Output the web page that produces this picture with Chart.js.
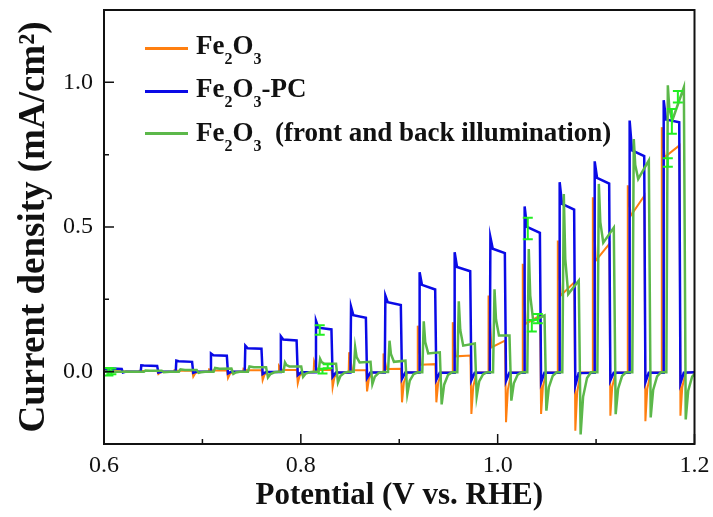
<!DOCTYPE html>
<html>
<head>
<meta charset="utf-8">
<script src="https://cdn.jsdelivr.net/npm/chart.js@4.4.1/dist/chart.umd.min.js"></script>
<style>
  html, body { margin: 0; padding: 0; background: #fff; }
  #wrap { position: relative; width: 713px; height: 517px; }
  #chart { position: absolute; left: 0; top: 0; }
  .swatch { position: absolute; left: 145px; width: 43px; height: 2.5px; }
  .leg { position: absolute; left: 196px; font: bold 27px 'Liberation Serif', serif; line-height: 27px;
         white-space: pre; color: #111; }
  .leg sub { font-size: 16px; vertical-align: -10px; line-height: 0; }
</style>
</head>
<body>
<div id="wrap">
  <canvas id="chart" width="713" height="517"></canvas>
  <div class="swatch" style="top:47px; background:#ff7f10"></div>
  <div class="leg" style="top:32px">Fe<sub>2</sub>O<sub>3</sub></div>
  <div class="swatch" style="top:90px; background:#0a0ae6"></div>
  <div class="leg" style="top:75px">Fe<sub>2</sub>O<sub>3</sub>-PC</div>
  <div class="swatch" style="top:132px; background:#5cb84a"></div>
  <div class="leg" style="top:119px">Fe<sub>2</sub>O<sub>3</sub>&nbsp; (front and back illumination)</div>
</div>
<script>
// chopped-light LSV curves, [potential V, current mA/cm2]
const fe2o3 = [
  [0.600, 0.002], [0.6355, 0.000],
  [0.6360, 0.003], [0.6390, 0.002], [0.6542, 0.002], [0.6552, -0.008], [0.6571, -0.003], [0.6606, 0.000],
  [0.6711, 0.000], [0.6716, 0.005], [0.6746, 0.003], [0.6897, 0.003], [0.6907, -0.017], [0.6926, -0.006], [0.6961, 0.000],
  [0.7063, 0.000], [0.7068, 0.008], [0.7098, 0.004], [0.7250, 0.004], [0.7260, -0.022], [0.7279, -0.008], [0.7314, 0.000],
  [0.7412, 0.000], [0.7417, 0.010], [0.7447, 0.005], [0.7602, 0.005], [0.7612, -0.029], [0.7631, -0.010], [0.7666, -0.001],
  [0.7773, -0.001], [0.7778, 0.020], [0.7808, 0.006], [0.7959, 0.006], [0.7969, -0.040], [0.7988, -0.014], [0.8023, -0.002],
  [0.8130, -0.002], [0.8135, 0.035], [0.8165, 0.006], [0.8313, 0.006], [0.8323, -0.054], [0.8342, -0.019], [0.8377, -0.003],
  [0.8486, -0.003], [0.8491, 0.067], [0.8521, 0.005], [0.8663, 0.005], [0.8673, -0.068], [0.8692, -0.024], [0.8727, -0.003],
  [0.8835, -0.003], [0.8840, 0.063], [0.8870, 0.009], [0.9018, 0.010], [0.9028, -0.106], [0.9047, -0.037], [0.9082, -0.003],
  [0.9183, -0.003], [0.9188, 0.159], [0.9218, 0.024], [0.9367, 0.026], [0.9377, -0.106], [0.9396, -0.037], [0.9431, -0.003],
  [0.9539, -0.003], [0.9544, 0.171], [0.9574, 0.053], [0.9723, 0.056], [0.9733, -0.146], [0.9752, -0.051], [0.9787, -0.003],
  [0.9902, -0.003], [0.9907, 0.263], [0.9937, 0.084], [1.0075, 0.107], [1.0085, -0.175], [1.0104, -0.061], [1.0139, -0.003],
  [1.0250, -0.003], [1.0255, 0.373], [1.0285, 0.165], [1.0431, 0.194], [1.0441, -0.146], [1.0460, -0.051], [1.0495, -0.003],
  [1.0606, -0.003], [1.0611, 0.453], [1.0641, 0.263], [1.0779, 0.309], [1.0789, -0.204], [1.0808, -0.071], [1.0843, -0.003],
  [1.0962, -0.003], [1.0967, 0.603], [1.0997, 0.384], [1.1135, 0.442], [1.1145, -0.152], [1.1164, -0.053], [1.1199, -0.003],
  [1.1317, -0.003], [1.1322, 0.644], [1.1352, 0.539], [1.1491, 0.608], [1.1501, -0.171], [1.1520, -0.060], [1.1555, -0.003],
  [1.1663, -0.003], [1.1668, 0.845], [1.1698, 0.742], [1.1847, 0.782], [1.1857, -0.152], [1.1876, -0.053], [1.1911, -0.003],
  [1.2000, -0.002]
];

const fe2o3PC = [
  [0.600, 0.010], [0.6045, 0.006], [0.6070, 0.000],
  [0.6088, 0.000], [0.6092, 0.011], [0.6180, 0.009], [0.6192, -0.003], [0.6225, 0.000],
  [0.6373, 0.000], [0.6379, 0.022], [0.6403, 0.021], [0.6540, 0.020], [0.6552, -0.003], [0.6586, 0.000],
  [0.6729, 0.000], [0.6735, 0.038], [0.6759, 0.036], [0.6895, 0.034], [0.6907, -0.004], [0.6941, 0.000],
  [0.7081, 0.000], [0.7087, 0.063], [0.7111, 0.057], [0.7248, 0.055], [0.7260, -0.006], [0.7294, 0.000],
  [0.7430, 0.000], [0.7436, 0.090], [0.7460, 0.081], [0.7600, 0.079], [0.7612, -0.008], [0.7646, -0.001],
  [0.7791, -0.001], [0.7797, 0.122], [0.7821, 0.111], [0.7957, 0.108], [0.7969, -0.012], [0.8003, -0.002],
  [0.8148, -0.002], [0.8154, 0.176], [0.8178, 0.152], [0.8311, 0.146], [0.8323, -0.018], [0.8357, -0.003],
  [0.8504, -0.003], [0.8510, 0.225], [0.8534, 0.195], [0.8661, 0.186], [0.8673, -0.022], [0.8707, -0.003],
  [0.8853, -0.003], [0.8859, 0.263], [0.8883, 0.240], [0.9016, 0.230], [0.9028, -0.025], [0.9062, -0.003],
  [0.9201, -0.003], [0.9207, 0.344], [0.9231, 0.300], [0.9365, 0.284], [0.9377, -0.028], [0.9411, -0.004],
  [0.9557, -0.004], [0.9563, 0.413], [0.9587, 0.362], [0.9721, 0.347], [0.9733, -0.030], [0.9767, -0.004],
  [0.9920, -0.004], [0.9926, 0.465], [0.9950, 0.425], [1.0073, 0.410], [1.0085, -0.032], [1.0119, -0.004],
  [1.0268, -0.004], [1.0274, 0.571], [1.0298, 0.500], [1.0429, 0.480], [1.0441, -0.037], [1.0475, -0.004],
  [1.0624, -0.004], [1.0630, 0.655], [1.0654, 0.580], [1.0777, 0.560], [1.0789, -0.048], [1.0823, -0.005],
  [1.0980, -0.004], [1.0986, 0.727], [1.1010, 0.670], [1.1133, 0.650], [1.1145, -0.030], [1.1179, -0.004],
  [1.1335, -0.004], [1.1341, 0.868], [1.1365, 0.765], [1.1489, 0.745], [1.1501, -0.037], [1.1535, -0.004],
  [1.1681, -0.004], [1.1687, 0.938], [1.1711, 0.872], [1.1845, 0.862], [1.1857, -0.040], [1.1891, -0.004],
  [1.2000, -0.002]
];

const fe2o3FrontBack = [
  [0.600, 0.000],
  [0.6406, 0.000], [0.6421, 0.004], [0.6466, 0.003], [0.6587, 0.003], [0.6606, -0.002], [0.6671, 0.000],
  [0.6762, 0.000], [0.6777, 0.008], [0.6822, 0.006], [0.6942, 0.006], [0.6961, -0.004], [0.6986, -0.002], [0.7026, 0.000],
  [0.7114, 0.000], [0.7129, 0.013], [0.7174, 0.010], [0.7295, 0.011], [0.7314, -0.008], [0.7339, -0.003], [0.7379, 0.000],
  [0.7463, 0.000], [0.7478, 0.018], [0.7523, 0.015], [0.7647, 0.015], [0.7666, -0.020], [0.7691, -0.008], [0.7731, -0.002], [0.7771, 0.000],
  [0.7824, 0.000], [0.7839, 0.032], [0.7854, 0.023], [0.7884, 0.018], [0.8004, 0.018], [0.8023, -0.018], [0.8048, -0.007], [0.8088, -0.002], [0.8128, 0.000],
  [0.8181, 0.000], [0.8196, 0.044], [0.8211, 0.033], [0.8241, 0.027], [0.8358, 0.027], [0.8377, -0.037], [0.8402, -0.015], [0.8442, -0.004], [0.8482, 0.000],
  [0.8537, 0.000], [0.8552, 0.084], [0.8567, 0.050], [0.8597, 0.032], [0.8708, 0.034], [0.8727, -0.043], [0.8752, -0.017], [0.8792, -0.004], [0.8832, -0.001],
  [0.8886, -0.001], [0.8901, 0.107], [0.8916, 0.060], [0.8946, 0.034], [0.9063, 0.038], [0.9082, -0.077], [0.9107, -0.031], [0.9147, -0.008], [0.9187, -0.002],
  [0.9234, -0.002], [0.9249, 0.174], [0.9264, 0.102], [0.9294, 0.063], [0.9412, 0.067], [0.9431, -0.113], [0.9456, -0.045], [0.9496, -0.011], [0.9536, -0.002],
  [0.9590, -0.002], [0.9605, 0.243], [0.9620, 0.144], [0.9650, 0.090], [0.9768, 0.097], [0.9787, -0.085], [0.9812, -0.034], [0.9852, -0.009], [0.9892, -0.002],
  [0.9953, -0.002], [0.9968, 0.285], [0.9983, 0.181], [1.0013, 0.125], [1.0120, 0.125], [1.0139, -0.100], [1.0164, -0.040], [1.0204, -0.010], [1.0244, -0.002],
  [1.0301, -0.002], [1.0316, 0.424], [1.0331, 0.263], [1.0361, 0.176], [1.0476, 0.194], [1.0495, -0.135], [1.0520, -0.054], [1.0560, -0.014], [1.0600, -0.002],
  [1.0657, -0.002], [1.0672, 0.614], [1.0687, 0.389], [1.0717, 0.268], [1.0824, 0.315], [1.0843, -0.217], [1.0868, -0.087], [1.0908, -0.022], [1.0948, -0.002],
  [1.1013, -0.002], [1.1028, 0.649], [1.1043, 0.517], [1.1073, 0.446], [1.1180, 0.498], [1.1199, -0.147], [1.1224, -0.059], [1.1264, -0.015], [1.1304, -0.002],
  [1.1368, -0.002], [1.1383, 0.804], [1.1398, 0.714], [1.1428, 0.666], [1.1536, 0.730], [1.1555, -0.158], [1.1580, -0.063], [1.1620, -0.016], [1.1660, -0.002],
  [1.1714, -0.002], [1.1729, 0.990], [1.1744, 0.910], [1.1774, 0.868], [1.1892, 0.983], [1.1911, -0.165], [1.1936, -0.066], [1.1976, -0.017], [1.2000, -0.008]
];

// error bars on the front/back curve: [potential, current, half range]
const errorBars = [
  [0.6045, 0.000, 0.013], [0.6075, 0.001, 0.010],
  [0.8192, 0.144, 0.016], [0.8220, 0.002, 0.008], [0.8273, 0.019, 0.007],
  [1.0306, 0.495, 0.037], [1.0347, 0.159, 0.020], [1.0408, 0.183, 0.016],
  [1.1729, 0.723, 0.015], [1.1770, 0.865, 0.043], [1.1831, 0.950, 0.020]
];

const xMajorTicks = [0.6, 0.8, 1.0, 1.2];
const xMinorTicks = [0.7, 0.9, 1.1];
const yMajorTicks = [0.0, 0.5, 1.0];
const yMinorTicks = [0.25, 0.75];

const toXY = pts => pts.map(p => ({ x: p[0], y: p[1] }));

// frame, inward ticks and error bars
const decorPlugin = {
  id: 'decor',
  afterDatasetsDraw(chart) {
    const { ctx, chartArea, scales: { x, y } } = chart;
    ctx.save();
    ctx.beginPath();
    ctx.rect(chartArea.left, chartArea.top, chartArea.width, chartArea.height);
    ctx.clip();
    ctx.strokeStyle = '#22ee22';
    ctx.lineWidth = 2;
    errorBars.forEach(([v, j, e]) => {
      const px = x.getPixelForValue(v);
      const top = y.getPixelForValue(j + e);
      const bot = y.getPixelForValue(j - e);
      ctx.beginPath();
      ctx.moveTo(px, top); ctx.lineTo(px, bot);
      ctx.moveTo(px - 5, top); ctx.lineTo(px + 5, top);
      ctx.moveTo(px - 5, bot); ctx.lineTo(px + 5, bot);
      ctx.stroke();
    });
    ctx.restore();
  },
  afterDraw(chart) {
    const { ctx, chartArea: a, scales: { x, y } } = chart;
    ctx.save();
    ctx.strokeStyle = '#111';
    ctx.lineWidth = 1.5;
    ctx.beginPath();
    xMajorTicks.forEach(v => { const p = x.getPixelForValue(v); ctx.moveTo(p, a.bottom); ctx.lineTo(p, a.bottom - 10); });
    xMinorTicks.forEach(v => { const p = x.getPixelForValue(v); ctx.moveTo(p, a.bottom); ctx.lineTo(p, a.bottom - 5); });
    yMajorTicks.forEach(v => { const p = y.getPixelForValue(v); ctx.moveTo(a.left, p); ctx.lineTo(a.left + 10, p); });
    yMinorTicks.forEach(v => { const p = y.getPixelForValue(v); ctx.moveTo(a.left, p); ctx.lineTo(a.left + 5, p); });
    ctx.stroke();
    ctx.lineWidth = 2;
    ctx.strokeRect(a.left, a.top, a.width, a.height);
    ctx.restore();
  }
};

const serif = "'Liberation Serif', 'Times New Roman', serif";

new Chart(document.getElementById('chart'), {
  type: 'line',
  data: {
    datasets: [
      { label: 'Fe2O3 (front and back illumination)', data: toXY(fe2o3FrontBack), borderColor: '#5cb84a', borderWidth: 2.5, order: 0 },
      { label: 'Fe2O3-PC', data: toXY(fe2o3PC), borderColor: '#0a0ae6', borderWidth: 2.5, order: 1 },
      { label: 'Fe2O3', data: toXY(fe2o3), borderColor: '#ff7f10', borderWidth: 2, order: 2 }
    ]
  },
  options: {
    responsive: false,
    animation: false,
    events: [],
    elements: { point: { radius: 0 }, line: { tension: 0 } },
    layout: { padding: { top: 10, right: 18.5, left: 0, bottom: 0 } },
    plugins: { legend: { display: false }, tooltip: { enabled: false } },
    scales: {
      x: {
        type: 'linear', min: 0.6, max: 1.2,
        afterBuildTicks: axis => { axis.ticks = xMajorTicks.map(v => ({ value: v })); },
        afterFit: axis => { axis.height = 73; axis.paddingLeft = 0; axis.paddingRight = 0; },
        grid: { display: false, drawTicks: false },
        border: { display: false },
        ticks: { padding: 7, color: '#111', font: { family: serif, size: 24 }, maxRotation: 0,
                 callback: v => v.toFixed(1) },
        title: { display: true, text: 'Potential (V vs. RHE)', color: '#111',
                 font: { family: serif, size: 31, weight: 'bold' }, padding: { top: 0, bottom: 2 } }
      },
      y: {
        type: 'linear', min: -0.25, max: 1.25,
        afterBuildTicks: axis => { axis.ticks = yMajorTicks.map(v => ({ value: v })); },
        afterFit: axis => { axis.width = 104; axis.paddingTop = 0; axis.paddingBottom = 0; },
        grid: { display: false, drawTicks: false },
        border: { display: false },
        ticks: { padding: 11, color: '#111', font: { family: serif, size: 24 },
                 callback: v => v.toFixed(1) },
        title: { display: true, text: 'Current density (mA/cm\u00B2)', color: '#111',
                 font: { family: serif, size: 37, weight: 'bold' }, padding: { top: 12, bottom: 0 } }
      }
    }
  },
  plugins: [decorPlugin]
});
</script>
</body>
</html>
